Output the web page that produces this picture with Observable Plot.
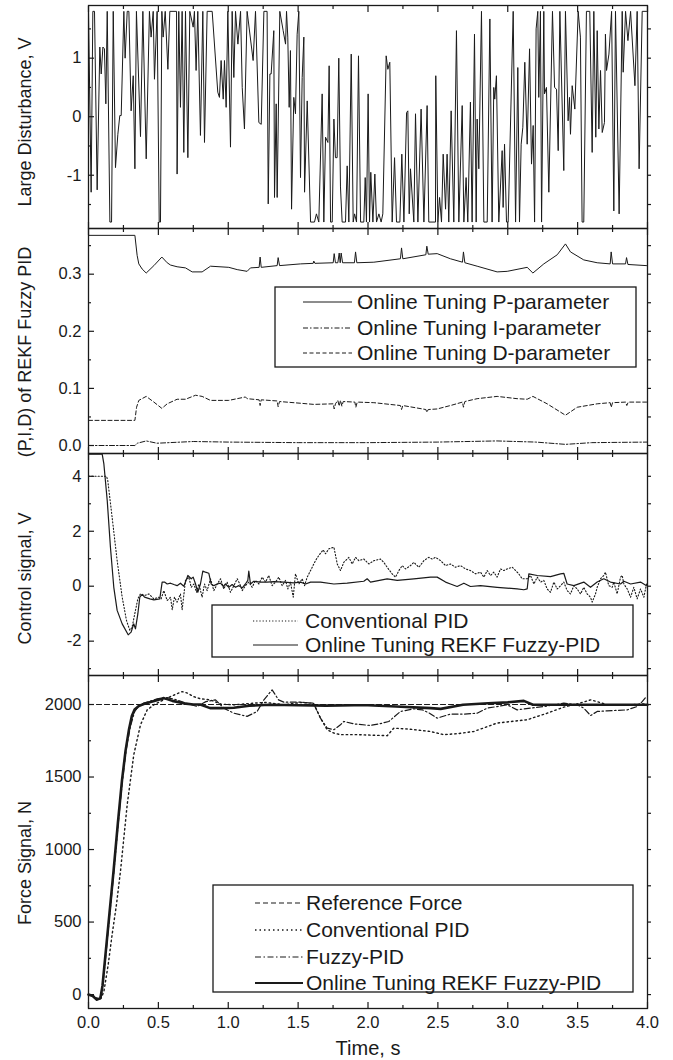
<!DOCTYPE html>
<html><head><meta charset="utf-8">
<script src="https://cdn.jsdelivr.net/npm/d3@7"></script>
<script src="https://cdn.jsdelivr.net/npm/@observablehq/plot@0.6"></script>
<style>
body{margin:0;background:#fff;}
#chart{position:relative;width:673px;height:1060px;font-family:"Liberation Sans",Arial,sans-serif;}
#chart svg{position:absolute;left:0;overflow:visible;}
</style></head><body><div id="chart"></div>
<script>
// ---------- data (time in s) ----------
const xMajor = [0,0.5,1,1.5,2,2.5,3,3.5,4];
const xMinor = [0.25,0.75,1.25,1.75,2.25,2.75,3.25,3.75];

const disturbance = [
[0.000,1.8],[0.019,-1.29],[0.031,1.8],[0.043,1.8],[0.062,-1.25],[0.081,1.19],[0.091,0.73],[0.103,1.19],[0.114,1.16],[0.124,0.22],
[0.134,1.8],[0.153,-1.8],[0.165,-1.8],[0.177,1.8],[0.193,-0.87],[0.210,-0.30],[0.224,0.02],[0.234,0.02],[0.253,1.8],[0.262,1.0],
[0.277,1.8],[0.289,1.8],[0.305,0.10],[0.320,0.70],[0.332,-0.89],[0.343,1.8],[0.372,-0.34],[0.389,1.8],[0.413,-0.72],[0.436,1.8],
[0.448,1.36],[0.463,1.8],[0.472,0.64],[0.491,1.8],[0.506,-1.8],[0.515,-1.8],[0.525,1.8],[0.534,1.36],[0.549,1.8],[0.568,0.81],
[0.582,1.8],[0.630,1.8],[0.634,-0.98],[0.646,1.8],[0.658,0.16],[0.670,1.8],[0.682,-0.61],[0.694,1.8],[0.711,-0.70],[0.725,1.8],
[0.749,1.53],[0.758,1.8],[0.770,0.79],[0.782,1.8],[0.801,-0.32],[0.818,1.8],[0.830,-0.44],[0.849,1.8],[0.885,1.8],[0.925,0.42],
[0.937,0.33],[0.949,0.96],[0.964,0.30],[0.973,0.96],[0.985,0.16],[0.997,1.8],[1.016,-0.52],[1.028,1.8],[1.040,0.67],[1.052,1.8],
[1.069,1.24],[1.088,1.8],[1.100,0.50],[1.116,-0.21],[1.135,1.8],[1.178,0.96],[1.195,1.8],[1.219,-0.10],[1.236,-0.13],[1.255,1.8],
[1.278,1.8],[1.286,-1.49],[1.298,0.73],[1.307,0.73],[1.326,1.47],[1.331,-1.38],[1.343,0.22],[1.350,-1.38],[1.369,1.8],[1.393,1.47],
[1.410,1.24],[1.417,1.8],[1.426,1.36],[1.436,0.16],[1.445,1.13],[1.453,-1.58],[1.469,0.33],[1.481,0.05],[1.493,1.41],[1.505,1.8],
[1.517,-1.04],[1.529,0.67],[1.541,1.36],[1.546,-1.29],[1.565,0.27],[1.589,-1.8],[1.617,-1.8],[1.631,-1.66],[1.648,-1.8],[1.672,0.39],
[1.684,-1.8],[1.696,-0.35],[1.713,-0.44],[1.722,0.87],[1.732,-1.8],[1.744,-1.8],[1.756,-0.04],[1.767,-0.70],[1.779,-0.70],[1.791,1.0],
[1.803,-1.2],[1.815,-1.8],[1.839,-1.8],[1.851,-0.84],[1.863,-1.8],[1.880,1.07],[1.894,-1.8],[1.904,-1.66],[1.918,-1.8],[1.932,1.04],
[1.947,-1.8],[1.970,-1.8],[1.980,-1.04],[1.989,-1.8],[2.001,0.39],[2.011,-1.8],[2.020,-0.95],[2.035,-1.8],[2.049,-0.98],[2.061,-1.8],
[2.078,-1.66],[2.094,-1.8],[2.106,-1.66],[2.130,1.04],[2.142,0.81],[2.156,0.93],[2.173,-1.8],[2.190,-0.70],[2.204,-1.8],[2.228,-1.8],
[2.242,-0.64],[2.257,-1.8],[2.276,0.07],[2.285,0.10],[2.295,-1.66],[2.304,-0.89],[2.328,-1.8],[2.340,0.05],[2.357,-1.8],[2.380,0.13],
[2.400,-1.8],[2.423,0.19],[2.435,-1.8],[2.483,-1.8],[2.485,0.70],[2.500,-1.8],[2.512,-1.38],[2.526,-1.8],[2.538,-0.64],[2.555,-1.58],
[2.566,-0.64],[2.578,-1.8],[2.595,0.10],[2.614,-1.8],[2.633,1.47],[2.650,-1.8],[2.674,0.19],[2.686,-1.8],[2.702,-1.04],[2.714,-1.8],
[2.733,0.25],[2.745,-1.8],[2.762,1.41],[2.774,-1.8],[2.781,-0.04],[2.793,-0.89],[2.812,1.8],[2.829,-1.8],[2.853,-1.8],[2.872,1.67],
[2.888,-1.8],[2.900,0.50],[2.907,0.30],[2.919,0.70],[2.936,-1.8],[2.960,-0.58],[2.967,-1.55],[2.977,-0.47],[2.991,-1.8],[3.003,-1.8],
[3.039,1.8],[3.056,-1.8],[3.072,0.84],[3.084,-1.8],[3.096,-0.47],[3.108,-0.18],[3.122,0.93],[3.139,-0.47],[3.156,1.16],[3.170,-0.81],
[3.182,-0.15],[3.192,-1.8],[3.203,1.50],[3.215,1.8],[3.222,0.33],[3.234,1.8],[3.242,-1.8],[3.258,1.8],[3.263,0.39],[3.277,0.50],
[3.294,-1.29],[3.320,1.8],[3.335,0.50],[3.349,0.47],[3.361,-0.58],[3.373,1.8],[3.401,-0.92],[3.413,1.8],[3.432,-0.07],[3.442,0.33],
[3.449,-0.30],[3.461,0.53],[3.480,0.13],[3.504,1.8],[3.520,1.36],[3.532,-1.8],[3.544,-1.8],[3.563,1.8],[3.587,1.8],[3.604,-0.61],
[3.616,1.8],[3.630,-0.35],[3.640,1.47],[3.652,-0.21],[3.664,0.79],[3.676,-0.27],[3.692,-0.10],[3.699,1.41],[3.707,0.79],[3.724,1.07],
[3.743,1.8],[3.759,-1.61],[3.771,1.8],[3.797,-1.66],[3.819,1.8],[3.826,0.76],[3.843,1.8],[3.860,1.30],[3.879,1.8],[3.910,0.53],
[3.926,1.8],[3.940,-0.89],[3.962,1.8],[3.993,1.8]
];

const pParam = [[0,0.368],[0.332,0.368],[0.348,0.333],[0.360,0.318],[0.384,0.309],[0.413,0.302],[0.468,0.315],[0.525,0.330],[0.563,0.320],[0.587,0.316],[0.634,0.313],[0.694,0.311],[0.742,0.304],[0.813,0.304],[0.873,0.314],[1.004,0.312],[1.064,0.308],[1.135,0.305],[1.159,0.311],[1.221,0.312],[1.228,0.330],[1.236,0.312],[1.350,0.315],[1.357,0.329],[1.367,0.315],[1.517,0.318],[1.608,0.319],[1.612,0.323],[1.620,0.319],[1.751,0.320],[1.758,0.336],[1.767,0.320],[1.784,0.320],[1.794,0.337],[1.801,0.320],[1.808,0.337],[1.818,0.320],[1.903,0.320],[1.911,0.339],[1.920,0.320],[2.042,0.321],[2.232,0.327],[2.240,0.346],[2.249,0.327],[2.414,0.334],[2.421,0.349],[2.431,0.335],[2.495,0.336],[2.590,0.327],[2.676,0.321],[2.683,0.339],[2.693,0.320],[2.781,0.314],[2.924,0.304],[2.996,0.305],[3.139,0.312],[3.180,0.302],[3.258,0.318],[3.354,0.334],[3.413,0.353],[3.449,0.339],[3.544,0.325],[3.640,0.320],[3.733,0.318],[3.740,0.339],[3.750,0.318],[3.843,0.318],[3.850,0.329],[3.860,0.317],[3.993,0.315]];
const iParam = [[0,0.0],[0.332,0.0],[0.35,0.004],[0.413,0.008],[0.49,0.004],[0.75,0.007],[1.0,0.006],[1.5,0.005],[2.0,0.005],[2.5,0.006],[2.92,0.008],[3.2,0.006],[3.413,0.002],[3.6,0.005],[4.0,0.006]];
const dParam = [[0,0.044],[0.332,0.044],[0.344,0.067],[0.360,0.079],[0.413,0.086],[0.468,0.076],[0.525,0.065],[0.563,0.073],[0.634,0.081],[0.694,0.081],[0.766,0.088],[0.813,0.086],[0.873,0.079],[1.004,0.079],[1.123,0.085],[1.135,0.082],[1.221,0.080],[1.228,0.070],[1.236,0.080],[1.350,0.078],[1.357,0.068],[1.367,0.077],[1.517,0.074],[1.612,0.072],[1.751,0.073],[1.758,0.064],[1.767,0.073],[1.784,0.079],[1.794,0.069],[1.803,0.079],[1.813,0.069],[1.823,0.077],[1.906,0.076],[1.913,0.067],[1.923,0.076],[2.042,0.075],[2.232,0.070],[2.240,0.063],[2.249,0.070],[2.414,0.063],[2.421,0.058],[2.431,0.063],[2.495,0.064],[2.590,0.070],[2.676,0.076],[2.683,0.067],[2.693,0.077],[2.781,0.082],[2.924,0.086],[3.067,0.082],[3.139,0.081],[3.180,0.086],[3.282,0.073],[3.413,0.053],[3.497,0.067],[3.640,0.073],[3.733,0.075],[3.740,0.067],[3.750,0.075],[3.843,0.076],[3.852,0.070],[3.862,0.076],[3.993,0.076]];

const rekfControl = [[0,4.81],[0.098,4.81],[0.110,4.45],[0.134,3.12],[0.157,1.42],[0.181,-0.04],[0.205,-0.88],[0.241,-1.37],[0.284,-1.77],[0.305,-1.67],[0.324,-1.37],[0.336,-1.55],[0.353,-1.01],[0.367,-0.40],[0.384,-0.30],[0.401,-0.40],[0.439,-0.46],[0.468,-0.50],[0.510,-0.46],[0.527,0.15],[0.544,0.15],[0.563,0.08],[0.587,0.11],[0.611,0.06],[0.634,0.02],[0.658,0.11],[0.682,0.0],[0.694,0.15],[0.711,0.39],[0.735,0.27],[0.749,0.33],[0.766,0.08],[0.782,-0.22],[0.801,0.08],[0.818,0.55],[0.837,0.51],[0.861,0.47],[0.878,0.08],[0.897,0.02],[0.921,0.08],[0.945,0.11],[0.964,-0.01],[0.980,0.08],[1.004,-0.04],[1.028,0.06],[1.052,-0.04],[1.076,0.02],[1.100,-0.06],[1.123,0.08],[1.140,0.21],[1.147,0.55],[1.159,0.08],[1.183,0.18],[1.231,0.15],[1.278,0.15],[1.326,0.17],[1.398,0.15],[1.469,0.12],[1.517,0.15],[1.553,0.08],[1.589,0.15],[1.660,0.15],[1.756,0.08],[1.851,0.11],[1.970,0.18],[1.994,0.27],[2.018,0.15],[2.137,0.27],[2.209,0.21],[2.328,0.27],[2.448,0.33],[2.495,0.33],[2.555,0.15],[2.590,0.08],[2.638,-0.01],[2.686,0.11],[2.733,-0.01],[2.805,0.02],[2.924,-0.04],[3.067,-0.10],[3.115,-0.13],[3.139,-0.10],[3.151,0.45],[3.211,0.39],[3.306,0.35],[3.378,0.45],[3.401,0.47],[3.425,0.08],[3.473,0.02],[3.544,0.15],[3.592,-0.04],[3.640,0.15],[3.687,0.27],[3.735,0.15],[3.807,0.08],[3.831,0.18],[3.879,0.08],[3.950,0.15],[3.993,0.02]];
const pidControl = [[0,4.0],[0.129,4.0],[0.138,3.84],[0.169,2.51],[0.205,0.93],[0.241,-0.40],[0.272,-1.25],[0.296,-1.61],[0.312,-1.49],[0.336,-0.88],[0.353,-0.46],[0.372,-0.28],[0.401,-0.34],[0.432,-0.28],[0.468,-0.46],[0.503,-0.40],[0.520,-0.46],[0.539,-0.16],[0.563,-0.52],[0.587,-0.40],[0.599,-0.86],[0.615,-0.40],[0.634,-0.58],[0.658,-0.28],[0.670,-0.86],[0.694,0.21],[0.718,0.33],[0.735,-0.04],[0.754,0.08],[0.773,-0.22],[0.790,0.08],[0.813,-0.40],[0.830,0.08],[0.849,-0.16],[0.873,0.27],[0.897,-0.16],[0.921,0.08],[0.945,0.27],[0.968,-0.10],[0.992,0.15],[1.016,-0.22],[1.040,0.02],[1.064,0.27],[1.083,0.08],[1.100,-0.16],[1.123,0.02],[1.147,0.15],[1.171,-0.04],[1.195,0.21],[1.219,0.08],[1.243,0.33],[1.267,0.15],[1.290,0.39],[1.314,0.02],[1.338,0.15],[1.362,0.33],[1.386,0.02],[1.410,0.21],[1.426,-0.10],[1.445,0.15],[1.465,-0.40],[1.481,0.45],[1.505,0.08],[1.529,0.27],[1.546,0.02],[1.565,0.33],[1.589,0.57],[1.624,0.93],[1.648,1.12],[1.679,1.32],[1.696,1.18],[1.720,1.36],[1.756,1.42],[1.780,0.81],[1.803,0.57],[1.827,0.87],[1.863,1.05],[1.887,0.81],[1.911,1.05],[1.935,0.93],[1.970,0.99],[2.006,0.81],[2.042,0.93],[2.089,0.99],[2.113,0.87],[2.137,0.69],[2.173,0.45],[2.197,0.33],[2.221,0.57],[2.245,0.75],[2.269,0.63],[2.304,0.75],[2.328,0.87],[2.364,0.69],[2.400,0.93],[2.435,1.05],[2.459,0.99],[2.483,1.05],[2.519,0.93],[2.555,0.75],[2.590,0.81],[2.626,0.69],[2.662,0.75],[2.698,0.63],[2.733,0.57],[2.769,0.45],[2.805,0.51],[2.829,0.33],[2.853,0.57],[2.877,0.39],[2.900,0.51],[2.924,0.33],[2.948,0.63],[2.972,0.57],[2.996,0.63],[3.032,0.69],[3.056,0.57],[3.079,0.45],[3.103,0.27],[3.139,0.27],[3.163,0.39],[3.187,0.08],[3.211,0.33],[3.235,0.15],[3.258,0.21],[3.282,-0.10],[3.306,-0.22],[3.330,0.15],[3.354,-0.10],[3.378,0.02],[3.401,0.15],[3.425,-0.16],[3.449,-0.28],[3.473,0.02],[3.497,-0.10],[3.521,-0.28],[3.544,-0.04],[3.568,-0.28],[3.592,-0.40],[3.604,-0.58],[3.628,-0.28],[3.640,-0.04],[3.664,0.27],[3.687,0.39],[3.699,0.51],[3.723,0.02],[3.747,-0.04],[3.759,0.15],[3.783,-0.28],[3.807,0.33],[3.819,0.39],[3.831,0.08],[3.855,-0.10],[3.879,-0.40],[3.902,-0.04],[3.926,-0.46],[3.950,-0.10],[3.974,-0.40],[3.993,0.08]];

const refForce = [[0,2000],[4,2000]];
const pidForce = [[0,0],[0.03,-10],[0.06,-35],[0.09,-25],[0.11,20],[0.14,200],[0.17,420],[0.20,620],[0.229,852],[0.277,1310],[0.324,1654],[0.372,1860],[0.42,1963],[0.468,1998],[0.515,2021],[0.587,2055],[0.67,2089],[0.71,2078],[0.75,2055],[0.80,2040],[0.87,2032],[0.95,2002],[1.04,1998],[1.18,2009],[1.27,2014],[1.40,1998],[1.52,2014],[1.61,2009],[1.66,1906],[1.708,1826],[1.756,1803],[1.803,1792],[1.92,1792],[2.137,1785],[2.185,1837],[2.30,1830],[2.448,1814],[2.542,1792],[2.65,1800],[2.757,1814],[2.924,1872],[3.139,1895],[3.282,1940],[3.401,1982],[3.50,2005],[3.593,2032],[3.64,2020],[3.71,1998],[3.80,1998],[3.88,1998],[3.993,2005]];
const fuzzyForce = [[0,0],[0.03,-5],[0.06,-25],[0.09,-15],[0.10,40],[0.12,230],[0.15,530],[0.18,830],[0.21,1150],[0.24,1450],[0.27,1690],[0.30,1850],[0.33,1950],[0.36,1990],[0.396,2010],[0.491,2039],[0.563,2048],[0.63,2032],[0.70,2009],[0.777,1986],[0.84,2020],[0.909,2032],[0.968,1975],[1.04,1940],[1.135,1918],[1.207,1952],[1.255,2032],[1.314,2101],[1.36,2032],[1.398,2016],[1.52,2016],[1.61,2009],[1.66,1906],[1.708,1837],[1.756,1826],[1.803,1860],[1.827,1883],[1.90,1866],[2.01,1856],[2.08,1866],[2.149,1883],[2.232,1952],[2.327,1970],[2.39,1963],[2.44,1940],[2.495,1906],[2.590,1934],[2.686,1934],[2.781,1940],[2.853,1975],[2.924,1986],[2.996,1998],[3.067,1963],[3.163,1975],[3.258,1986],[3.401,2009],[3.497,1998],[3.544,1975],[3.593,1924],[3.640,1952],[3.71,1956],[3.855,1963],[3.926,1986],[3.962,2020],[3.993,2055]];
const rekfForce = [[0,0],[0.03,-10],[0.06,-35],[0.085,-25],[0.10,60],[0.12,260],[0.15,560],[0.18,860],[0.21,1180],[0.24,1480],[0.265,1680],[0.29,1830],[0.31,1920],[0.33,1965],[0.36,1990],[0.40,2005],[0.47,2025],[0.54,2044],[0.60,2025],[0.68,2008],[0.75,2000],[0.80,2000],[0.87,1975],[0.95,1975],[1.04,1978],[1.15,1992],[1.3,1998],[1.5,1995],[1.7,1992],[1.9,1995],[2.0,1995],[2.2,1986],[2.448,1975],[2.52,1970],[2.68,1998],[2.86,2009],[3.0,2015],[3.115,2025],[3.18,1998],[3.4,1998],[3.7,1998],[4.0,1998]];

// ---------- layout ----------
const W = 673, ML = 88, MR = 26;
const FONT = '"Liberation Sans", Arial, sans-serif';
const INK = "#1a1a1a";
const S = {
  p:{dash:null,w:1}, i:{dash:"5,2,1.5,2",w:1}, d:{dash:"4,2.5",w:1},
  convC:{dash:"1.2,2",w:1.1}, rekfC:{dash:null,w:1.2},
  ref:{dash:"5,3",w:1.2}, convF:{dash:"1.5,3",w:1.4}, fuzzy:{dash:"6,2.5,1.5,2.5",w:1.2}, rekfF:{dash:null,w:2.6}
};
const ln = (data, s) => Plot.line(data, {stroke: INK, strokeWidth: s.w, strokeDasharray: s.dash, strokeLinejoin:"round"});
const hy = d => String(d);

function panel({top, bottom, yDomain, major, minor, yFormat, yLabel, labelDy, marks, xLabels=false}) {
  const mt = 2, mb = xLabels ? 52 : 2;
  const svg = Plot.plot({
    width: W, height: (bottom - top) + mt + mb,
    marginLeft: ML, marginRight: MR, marginTop: mt, marginBottom: mb,
    style: {fontFamily: FONT, background: "transparent", overflow: "visible", color: INK},
    x: {domain: [0, 4]},
    y: {domain: yDomain},
    marks: [
      ...marks,
      Plot.frame({stroke: INK, strokeWidth: 1.3}),
      Plot.axisY({ticks: major, anchor: "left", tickSize: -6, tickPadding: 13, tickFormat: yFormat, fontSize: 16.5, label: null, strokeWidth: 1.2}),
      Plot.axisY({ticks: minor, anchor: "left", tickSize: -3, fill: "none", label: null, strokeWidth: 1.2}),
      Plot.axisY({ticks: major.concat(minor), anchor: "right", tickSize: 3, fill: "none", label: null, strokeWidth: 1.2}),
      xLabels
        ? Plot.axisX({ticks: xMajor, anchor: "bottom", tickSize: -6, tickPadding: 14, tickFormat: d3.format(".1f"), fontSize: 16.5, label: null, strokeWidth: 1.2})
        : Plot.axisX({ticks: xMajor, anchor: "bottom", tickSize: -6, fill: "none", label: null, strokeWidth: 1.2}),
      Plot.axisX({ticks: xMinor, anchor: "bottom", tickSize: -3, fill: "none", label: null, strokeWidth: 1.2}),
      Plot.axisX({ticks: xMajor, anchor: "top", tickSize: -6, fill: "none", label: null, strokeWidth: 1.2}),
      Plot.axisX({ticks: xMinor, anchor: "top", tickSize: -3, fill: "none", label: null, strokeWidth: 1.2}),
      Plot.text([yLabel], {frameAnchor: "left", textAnchor: "middle", lineAnchor: "middle", dx: -63, dy: labelDy, rotate: -90, fontSize: 18, fill: INK}),
      xLabels ? Plot.text(["Time, s"], {frameAnchor: "bottom", lineAnchor: "middle", dy: 40, fontSize: 20, fill: INK}) : null
    ]
  });
  svg.style.top = (top - mt) + "px";
  document.getElementById("chart").appendChild(svg);
}

panel({top: 5, bottom: 228, yDomain: [-1.91, 1.9], major: [-1,0,1], minor: [-1.5,-0.5,0.5,1.5], yFormat: hy,
  yLabel: "Large Disturbance, V", labelDy: 5, marks: [ln(disturbance, {dash:null, w:1})]});
panel({top: 228, bottom: 453, yDomain: [-0.014, 0.38], major: [0,0.1,0.2,0.3], minor: [0.05,0.15,0.25,0.35], yFormat: d3.format(".1f"),
  yLabel: "(P,I,D) of REKF Fuzzy PID", labelDy: 11, marks: [ln(iParam, S.i), ln(dParam, S.d), ln(pParam, S.p)]});
panel({top: 453, bottom: 675, yDomain: [-3.25, 4.83], major: [-2,0,2,4], minor: [-3,-1,1,3], yFormat: hy,
  yLabel: "Control signal, V", labelDy: 14, marks: [ln(pidControl, S.convC), ln(rekfControl, S.rekfC)]});
panel({top: 675, bottom: 1008, yDomain: [-96, 2200], major: [0,500,1000,1500,2000], minor: [250,750,1250,1750], yFormat: hy,
  yLabel: "Force Signal, N", labelDy: 21, xLabels: true,
  marks: [ln(refForce, S.ref), ln(pidForce, S.convF), ln(fuzzyForce, S.fuzzy), ln(rekfForce, S.rekfF)]});

// ---------- legends (overlay) ----------
const ov = d3.select("#chart").append("svg").attr("width", W).attr("height", 1060)
  .style("top", "0px").style("pointer-events", "none");
function legend(box, x1, x2, tx, rows) {
  ov.append("rect").attr("x", box[0]).attr("y", box[1]).attr("width", box[2]-box[0]).attr("height", box[3]-box[1])
    .attr("fill", "#fff").attr("stroke", INK).attr("stroke-width", 1.3);
  rows.forEach(r => {
    ov.append("line").attr("x1", x1).attr("x2", x2).attr("y1", r.y).attr("y2", r.y)
      .attr("stroke", INK).attr("stroke-width", r.s.w).attr("stroke-dasharray", r.s.dash);
    ov.append("text").attr("x", tx).attr("y", r.y + 7).attr("font-size", 21).attr("fill", INK)
      .attr("font-family", FONT).text(r.label);
  });
}
legend([275, 287, 636, 367], 303, 352, 357, [
  {label: "Online Tuning P-parameter", y: 302, s: S.p},
  {label: "Online Tuning I-parameter", y: 328, s: S.i},
  {label: "Online Tuning D-parameter", y: 353, s: S.d}]);
legend([212, 605, 633, 657], 253, 298, 305, [
  {label: "Conventional PID", y: 621, s: S.convC},
  {label: "Online Tuning REKF Fuzzy-PID", y: 645, s: S.rekfC}]);
legend([213, 885, 633, 992], 255, 303, 306, [
  {label: "Reference Force", y: 903, s: S.ref},
  {label: "Conventional PID", y: 930, s: S.convF},
  {label: "Fuzzy-PID", y: 957, s: S.fuzzy},
  {label: "Online Tuning REKF Fuzzy-PID", y: 983, s: {dash:null, w:2.2}}]);
</script></body></html>
